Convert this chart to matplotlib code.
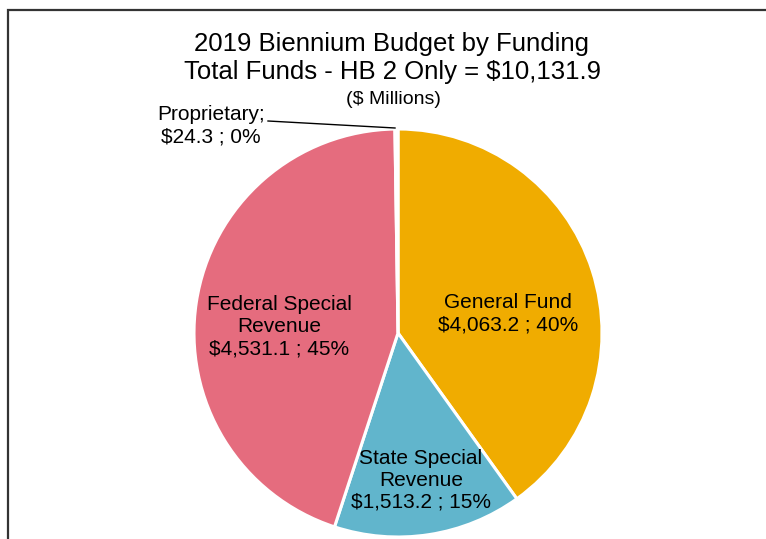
import matplotlib.pyplot as plt
from matplotlib.patches import Rectangle

plt.rcParams['font.family'] = ['Liberation Sans', 'DejaVu Sans']

# Budget by funding source ($ millions)
sources = ['General Fund', 'State Special\nRevenue', 'Federal Special\nRevenue', 'Proprietary;']
amounts = [4063.2, 1513.2, 4531.1, 24.3]
colors = ['#F0AC00', '#61B5CC', '#E56C7E', '#F4F4F4']
total = 10131.9

W, H = 766, 539
fig = plt.figure(figsize=(W / 100, H / 100), dpi=100)
ax = fig.add_axes([0, 0, 1, 1])

# chart area frame (runs off the right and bottom edges)
ax.add_patch(Rectangle((8, -20), W + 20, H - 10 + 20, fill=False,
                       edgecolor='#333333', linewidth=1.6))

cx, cy, r = 398, H - 333, 204
wedges, _ = ax.pie(amounts, colors=colors, startangle=90, counterclock=False,
                   center=(cx, cy), radius=r, frame=True,
                   wedgeprops=dict(edgecolor='white', linewidth=2.2))
ax.set_xlim(0, W)
ax.set_ylim(0, H)
ax.set_aspect('equal')
ax.axis('off')

ax.text(391, H - 44, '2019 Biennium Budget by Funding', ha='center', va='center', fontsize=18.5)
ax.text(393, H - 72, 'Total Funds - HB 2 Only = $%s' % format(total, ',.1f'),
        ha='center', va='center', fontsize=18.5)
ax.text(393, H - 99, '($ Millions)', ha='center', va='center', fontsize=14)

def label(i):
    pct = amounts[i] / total * 100
    return '%s\n$%s ; %d%%' % (sources[i], format(amounts[i], ',.1f'), round(pct))

kw = dict(ha='center', va='center', fontsize=15, linespacing=1.2)
ax.text(508, H - 314, label(0), **kw)
ax.text(421, H - 480, label(1), **kw)
ax.text(279, H - 327, label(2), **kw)
ax.text(211, H - 126, label(3), **kw)

# leader line for the tiny proprietary slice
ax.plot([268, 395], [H - 121, H - 128], color='black', linewidth=1)

fig.savefig('out.png', dpi=100)
